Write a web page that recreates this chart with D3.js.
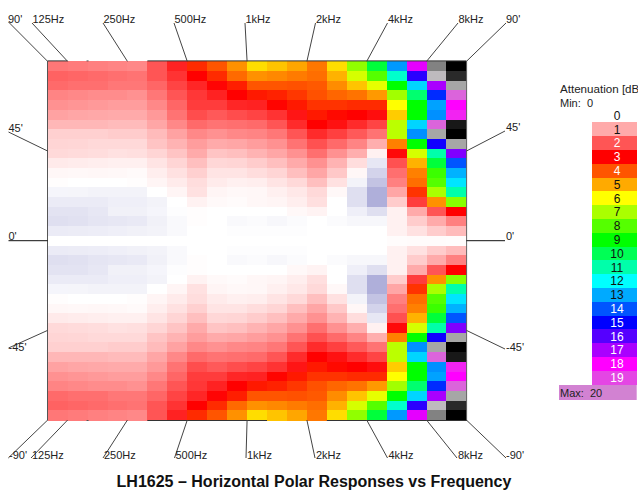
<!DOCTYPE html>
<html>
<head>
<meta charset="utf-8">
<script src="https://cdn.jsdelivr.net/npm/d3@7/dist/d3.min.js"></script>
<style>
html,body{margin:0;padding:0;background:#fff;overflow:hidden}
svg{display:block}
text{font-family:"Liberation Sans",Arial,sans-serif;font-size:11px;fill:#222}
</style>
</head>
<body>
<svg id="c" width="638" height="494"></svg>
<script>
const frequencies = [100,125,160,200,250,315,400,500,630,800,1000,1250,1600,2000,2500,3150,4000,5000,6300,8000,10000];
const angles = [90,85,80,75,70,65,60,55,50,45,40,35,30,25,20,15,10,5,0,-5,-10,-15,-20,-25,-30,-35,-40,-45,-50,-55,-60,-65,-70,-75,-80,-85,-90];
const freqTicks = [125,250,500,1000,2000,4000,8000];
const freqTickLabels = ["125Hz","250Hz","500Hz","1kHz","2kHz","4kHz","8kHz"];
const angleTicks = [45,0,-45];
const angleTickLabels = ["45'","0'","-45'"];
const legendLevels = [0,1,2,3,4,5,6,7,8,9,10,11,12,13,14,15,16,17,18,19];
const colorStops = [-1,0,1,2,3,4,5,6,7,8,9,10,11,12,13,14,15,16,17,18,19,20,20.5,21,22,23,24];
const colorValues = ["#afafda","#ffffff","#ffaaaa","#ff5555","#ff0000","#ff5500","#ffaa00","#ffff00","#aaff00","#55ff00","#00ff00","#00ff55","#00ffaa","#00ffff","#00aaff","#0055ff","#0000ff","#5500ff","#aa00ff","#ff00ff","#e446e4","#d282d2","#bebabe","#a6a6a6","#828282","#3c3c3c","#000000"];

// attenuation in dB, one row per angle (top to bottom), one value per frequency
const attenuation = [
[1.6,1.55,1.5,1.45,1.4,2,2.6,3.5,4,4.7,5.6,5.3,4.95,4.4,5.6,7.3,9.7,13.2,17.7,22,24],
[1.85,1.8,1.75,1.7,1.65,2,2.4,3,3.5,4.25,4.7,4.6,4.45,4.3,5.1,6.5,8,11.4,15.5,20.5,23.3],
[1.75,1.7,1.7,1.6,1.6,1.8,2.2,2.55,2.95,3.35,4,4,3.95,4.05,4.65,5.3,6.3,9,12.5,17,21],
[1.45,1.4,1.35,1.35,1.3,1.6,2,2.35,2.6,3,3.3,3.4,3.65,3.95,4.2,4.35,4.8,7.1,10.3,14.5,19.5],
[1.3,1.25,1.2,1.15,1.15,1.4,1.8,2.3,2.3,2.55,2.6,3.05,3.3,3.6,3.6,3.5,3.5,6,9,13.1,18],
[1.1,1.05,1.02,1,1,1.2,1.65,2.1,1.95,2.1,2.2,2.4,2.75,3.3,3.1,3,2.85,5.4,9,13.3,18.5],
[.85,.85,.85,.8,.8,1.05,1.4,1.75,1.65,1.7,1.75,2,2.5,3,2.8,2.5,2.2,6.8,12.5,19.5,23.6],
[.55,.55,.55,.6,.6,.8,1.1,1.4,1.3,1.4,1.45,1.6,2,2.5,2.25,1.95,1.65,6.8,13.3,21,24],
[.5,.48,.45,.45,.45,.7,.9,1.15,1,1.05,1.15,1.3,1.65,2.05,1.75,1.45,.95,4.5,9,15.2,21],
[.45,.42,.4,.35,.38,.5,.7,1,.7,.75,.9,1.05,1.3,1.7,1.3,.95,.17,2.9,6.5,11,16.5],
[.25,.22,.2,.18,.18,.32,.5,.75,.47,.5,.6,.75,1,1.3,.9,.4,-.3,2.05,5.1,9.7,14],
[.1,.08,.1,.08,.06,.2,.35,.55,.32,.32,.4,.5,.75,1.05,.65,.1,-.55,1.7,4.5,8.3,12.9],
[.02,0,0,0,.02,.12,.23,.4,.23,.18,.2,.32,.45,.75,.35,-.15,-.75,1.5,4.3,8,12.3],
[-.12,-.13,-.15,-.15,-.15,0,.12,.35,.12,.08,.1,.18,.27,.45,.08,-.4,-1,1.05,3.6,7,11],
[-.25,-.25,-.25,-.2,-.2,-.15,0,.15,.07,.05,.1,.12,.2,.38,0,-.4,-1,.6,2.3,4.7,7.4],
[-.35,-.35,-.3,-.18,-.18,-.12,-.03,.02,0,0,0,0,.08,.14,0,-.2,-.4,.17,1,2,3],
[-.4,-.38,-.33,-.3,-.28,-.18,-.08,.02,0,-.08,-.05,-.1,-.05,0,-.05,-.1,-.1,.17,.6,1,1.5],
[-.25,-.24,-.22,-.2,-.18,-.15,-.08,0,0,-.02,-.02,-.03,-.02,0,0,0,0,.17,.35,.6,.8],
[0,0,0,0,0,0,0,0,0,0,0,0,0,0,0,0,0,.03,.05,.05,.03],
[-.25,-.24,-.22,-.2,-.18,-.15,-.08,0,0,-.02,-.02,-.03,-.02,0,0,0,0,.17,.35,.6,.8],
[-.4,-.38,-.33,-.3,-.28,-.18,-.08,.02,0,-.08,-.05,-.1,-.05,0,-.05,-.1,-.1,.17,.6,1,1.5],
[-.35,-.35,-.3,-.18,-.18,-.12,-.03,.02,0,0,0,0,.08,.14,0,-.2,-.4,.17,1,2,3],
[-.25,-.25,-.25,-.2,-.2,-.15,0,.15,.07,.05,.1,.12,.2,.38,0,-.4,-1,.6,2.3,4.7,7.4],
[-.12,-.13,-.15,-.15,-.15,0,.12,.35,.12,.08,.1,.18,.27,.45,.08,-.4,-1,1.05,3.6,7,11],
[.02,0,0,0,.02,.12,.23,.4,.23,.18,.2,.32,.45,.75,.35,-.15,-.75,1.5,4.3,8,12.3],
[.1,.08,.1,.08,.06,.2,.35,.55,.32,.32,.4,.5,.75,1.05,.65,.1,-.55,1.7,4.5,8.3,12.9],
[.25,.22,.2,.18,.18,.32,.5,.75,.47,.5,.6,.75,1,1.3,.9,.4,-.3,2.05,5.1,9.7,14],
[.45,.42,.4,.35,.38,.5,.7,1,.7,.75,.9,1.05,1.3,1.7,1.3,.95,.17,2.9,6.5,11,16.5],
[.5,.48,.45,.45,.45,.7,.9,1.15,1,1.05,1.15,1.3,1.65,2.05,1.75,1.45,.95,4.5,9,15.2,21],
[.55,.55,.55,.6,.6,.8,1.1,1.4,1.3,1.4,1.45,1.6,2,2.5,2.25,1.95,1.65,6.8,13.3,21,24],
[.85,.85,.85,.8,.8,1.05,1.4,1.75,1.65,1.7,1.75,2,2.5,3,2.8,2.5,2.2,6.8,12.5,19.5,23.6],
[1.1,1.05,1.02,1,1,1.2,1.65,2.1,1.95,2.1,2.2,2.4,2.75,3.3,3.1,3,2.85,5.4,9,13.3,18.5],
[1.3,1.25,1.2,1.15,1.15,1.4,1.8,2.3,2.3,2.55,2.6,3.05,3.3,3.6,3.6,3.5,3.5,6,9,13.1,18],
[1.45,1.4,1.35,1.35,1.3,1.6,2,2.35,2.6,3,3.3,3.4,3.65,3.95,4.2,4.35,4.8,7.1,10.3,14.5,19.5],
[1.75,1.7,1.7,1.6,1.6,1.8,2.2,2.55,2.95,3.35,4,4,3.95,4.05,4.65,5.3,6.3,9,12.5,17,21],
[1.85,1.8,1.75,1.7,1.65,2,2.4,3,3.5,4.25,4.7,4.6,4.45,4.3,5.1,6.5,8,11.4,15.5,20.5,23.3],
[1.6,1.55,1.5,1.45,1.4,2,2.6,3.5,4,4.7,5.6,5.3,4.95,4.4,5.6,7.3,9.7,13.2,17.7,22,24]
];

// layout
const plot = {left:47.7, right:466.4, top:61.4, bottom:420};
const topLabelY = 23, bottomLabelY = 459, leaderTopY = 23, leaderBottomY = 458;
const topLeaderEnds = [32,103,174,245,315.5,387.5,458];
const bottomLeaderEnds = [31,103,174.5,246,315,387.5,457];
const leftLabelY = [132,240,351], rightLabelY = [131,240,351];

const svg = d3.select("#c");
const x = d3.scaleBand().domain(frequencies).range([plot.left, plot.right]);
const y = d3.scaleBand().domain(angles).range([plot.top, plot.bottom]);
const yAngle = d3.scaleLinear().domain([90,-90]).range([plot.top, plot.bottom]);
const color = d3.scaleLinear().domain(colorStops).range(colorValues).interpolate(d3.interpolateRgb).clamp(true);

const cells = [];
attenuation.forEach((row,i)=>row.forEach((v,j)=>cells.push({a:angles[i],f:frequencies[j],v})));
svg.append("g").selectAll("rect").data(cells).join("rect")
  .attr("x",d=>x(d.f)).attr("y",d=>y(d.a))
  .attr("width",x.bandwidth()+.6).attr("height",y.bandwidth()+.6)
  .attr("shape-rendering","crispEdges")
  .attr("fill",d=>color(d.v));

// frame (only partly visible in the original)
const frameDark = "#333", leader = "#444";
const seg = (g,x1,y1,x2,y2,s,w)=>g.append("line").attr("x1",x1).attr("y1",y1).attr("x2",x2).attr("y2",y2).attr("stroke",s).attr("stroke-width",w||1);
const g = svg.append("g");
seg(g,plot.left,plot.top-.5,x(125),plot.top-.5,frameDark);
seg(g,x(315),plot.top-.5,plot.right,plot.top-.5,frameDark);
seg(g,x(315),plot.bottom+.5,x(1250),plot.bottom+.5,frameDark);
seg(g,x(2500),plot.bottom+.5,plot.right,plot.bottom+.5,frameDark);
seg(g,plot.left-.2,plot.top-.5,plot.left-.2,plot.bottom+.5,"#555");
seg(g,plot.right+.2,plot.top-.5,plot.right+.2,plot.bottom+.5,"#666");
seg(g,x(160)-1,plot.top-.5,x(160)+1,plot.top-.5,"#555");
seg(g,x(160)-1,plot.bottom+.5,x(160)+1,plot.bottom+.5,"#555");

// frequency leaders + labels
freqTicks.forEach((f,i)=>{
  seg(g,x(f),plot.top,topLeaderEnds[i],leaderTopY,leader);
  seg(g,x(f),plot.bottom,bottomLeaderEnds[i],leaderBottomY,leader);
  g.append("text").attr("x",topLeaderEnds[i]+.5).attr("y",topLabelY).text(freqTickLabels[i]);
  g.append("text").attr("x",bottomLeaderEnds[i]+1).attr("y",bottomLabelY).text(freqTickLabels[i]);
});
// corners
seg(g,plot.left,plot.top,8.5,22,leader);
seg(g,plot.right,plot.top,506,23,leader);
seg(g,plot.left,plot.bottom,8.3,458,leader);
seg(g,plot.right,plot.bottom,506,458,leader);
g.append("text").attr("x",8).attr("y",topLabelY).text("90'");
g.append("text").attr("x",506).attr("y",topLabelY).text("90'");
g.append("text").attr("x",9).attr("y",bottomLabelY).text("-90'");
g.append("text").attr("x",506).attr("y",bottomLabelY).text("-90'");

// angle leaders + labels
angleTicks.forEach((a,i)=>{
  const yy = yAngle(a), yl = leftLabelY[i], yr = rightLabelY[i];
  const endL = a===0 ? yy : yl + (a>0?0:-3);
  const endR = a===0 ? yy : yr + (a>0?0:-2);
  seg(g,plot.left,yy,8.5,endL,a===0?"#111":leader);
  seg(g,plot.right,yy,505,endR,a===0?"#111":leader);
  g.append("text").attr("x",8.5).attr("y",yl).text(angleTickLabels[i]);
  g.append("text").attr("x",506).attr("y",yr).text(angleTickLabels[i]);
});

// legend
const legX0 = 592.3, legX1 = 636.7, legRowH = 13.8, legTop = 108.6;
const legY = d3.scaleLinear().domain([0,1]).range([legTop, legTop+legRowH]);
const lightText = new Set([2,3,4,14,15,16,17,18,19]);
const leg = svg.append("g");
leg.selectAll("rect").data(legendLevels).join("rect")
  .attr("x",legX0).attr("y",d=>legY(d)).attr("width",legX1-legX0).attr("height",legRowH+.4)
  .attr("shape-rendering","crispEdges").attr("fill",d=>color(d));
leg.selectAll("text").data(legendLevels).join("text")
  .attr("x",617).attr("y",d=>legY(d)+11.2).attr("text-anchor","middle")
  .style("fill",d=>lightText.has(d)?"#fff":"#111").style("font-size","12px").text(d=>d);
svg.append("text").attr("x",560).attr("y",93).style("font-size","11.6px").text("Attenuation [dB");
svg.append("text").attr("x",560).attr("y",106.5).style("white-space","pre").text("Min:  0");
svg.append("rect").attr("x",559).attr("y",385).attr("width",legX1-559).attr("height",15).attr("fill",color(20));
svg.append("text").attr("x",560).attr("y",397).style("white-space","pre").text("Max:  20");

// title
svg.append("text").attr("x",314).attr("y",487).attr("text-anchor","middle")
  .style("font-size","16px").style("font-weight","bold").style("fill","#111")
  .text("LH1625 – Horizontal Polar Responses vs Frequency");
</script>
</body>
</html>
